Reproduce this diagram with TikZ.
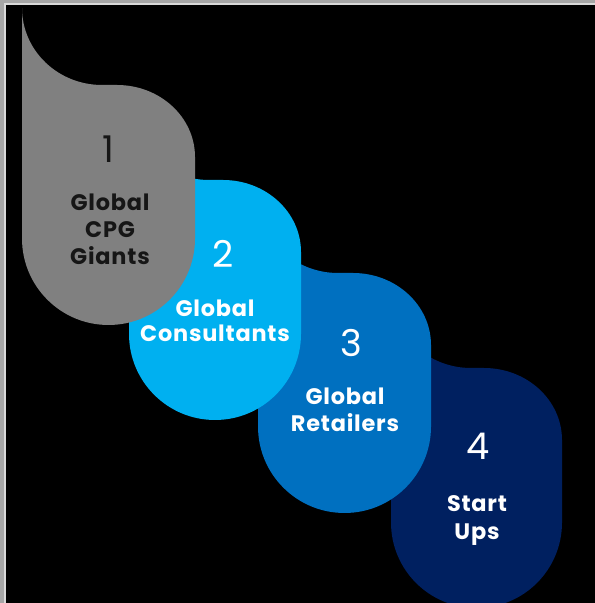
\documentclass[tikz,border=0pt]{standalone}
\usepackage{fontspec}
\setmainfont{Poppins}
\newfontfamily\labfont{Poppins}[LetterSpace=3.5]
\definecolor{stepgray}{HTML}{808080}
\definecolor{stepsky}{HTML}{00B0F0}
\definecolor{stepblue}{HTML}{0070C0}
\definecolor{stepnavy}{HTML}{002060}
\definecolor{darktext}{HTML}{161616}
\definecolor{framegray}{HTML}{A6A6A6}

% A drop-shaped card: left edge xl, right edge xr, body top and bottom
% (given in pixel rows, counted from the top), filled with colour #5.
\newcommand\dropcard[5]{%
  \pgfmathsetmacro\cl{#1}%
  \pgfmathsetmacro\cr{#2}%
  \pgfmathsetmacro\ct{603-#3}%
  \pgfmathsetmacro\cb{603-#4}%
  \pgfmathsetmacro\rad{(#2-#1)/2}%
  \fill[#5] (\cl,\ct+77) -- (\cl,\cb+\rad)
    arc[start angle=180, end angle=360, radius=\rad]
    -- (\cr,\ct-72)
    arc[start angle=0, end angle=90, x radius=78, y radius=72]
    -- (\cl+80,\ct)
    arc[start angle=270, end angle=180, x radius=80, y radius=77]
    -- cycle;%
}

\tikzset{
  numtxt/.style={anchor=base, inner sep=0pt, font=\fontsize{37}{37}\selectfont},
  labtxt/.style={anchor=base, inner sep=0pt, font=\labfont\fontsize{22.5}{26}\selectfont\bfseries},
}

\begin{document}
\begin{tikzpicture}[x=1bp,y=1bp]
\useasboundingbox (0,0) rectangle (595,603);
\clip (0,0) rectangle (595,603);
% frame and background
\fill[framegray] (0,0) rectangle (595,603);
\fill[white!85!black] (4,0) rectangle (595,599.5);
\fill[black] (5.5,0) rectangle (595,598);

% cards, back to front
\dropcard{391}{562}{368}{608}{stepnavy}
\dropcard{258}{431}{273}{513}{stepblue}
\dropcard{129}{301}{180}{420}{stepsky}
\dropcard{22}{195}{85}{325}{stepgray}

% card 1
\node[numtxt, text=darktext] (num1) at (108,603-163) {1};
\node[labtxt, text=darktext] (lab1a) at (110,603-211) {Global};
\node[labtxt, text=darktext] (lab1b) at (110,603-238) {CPG};
\node[labtxt, text=darktext] (lab1c) at (110,603-265) {Giants};
% card 2
\node[numtxt, text=white] (num2) at (223,603-268) {2};
\node[labtxt, text=white] (lab2a) at (215,603-317) {Global};
\node[labtxt, text=white] (lab2b) at (215,603-342) {Consultants};
% card 3
\node[numtxt, text=white] (num3) at (351,603-357) {3};
\node[labtxt, text=white] (lab3a) at (345,603-405) {Global};
\node[labtxt, text=white] (lab3b) at (345,603-432) {Retailers};
% card 4
\node[numtxt, text=white] (num4) at (478,603-460) {4};
\node[labtxt, text=white] (lab4a) at (477,603-512) {Start};
\node[labtxt, text=white] (lab4b) at (477,603-540) {Ups};
\end{tikzpicture}
\end{document}
